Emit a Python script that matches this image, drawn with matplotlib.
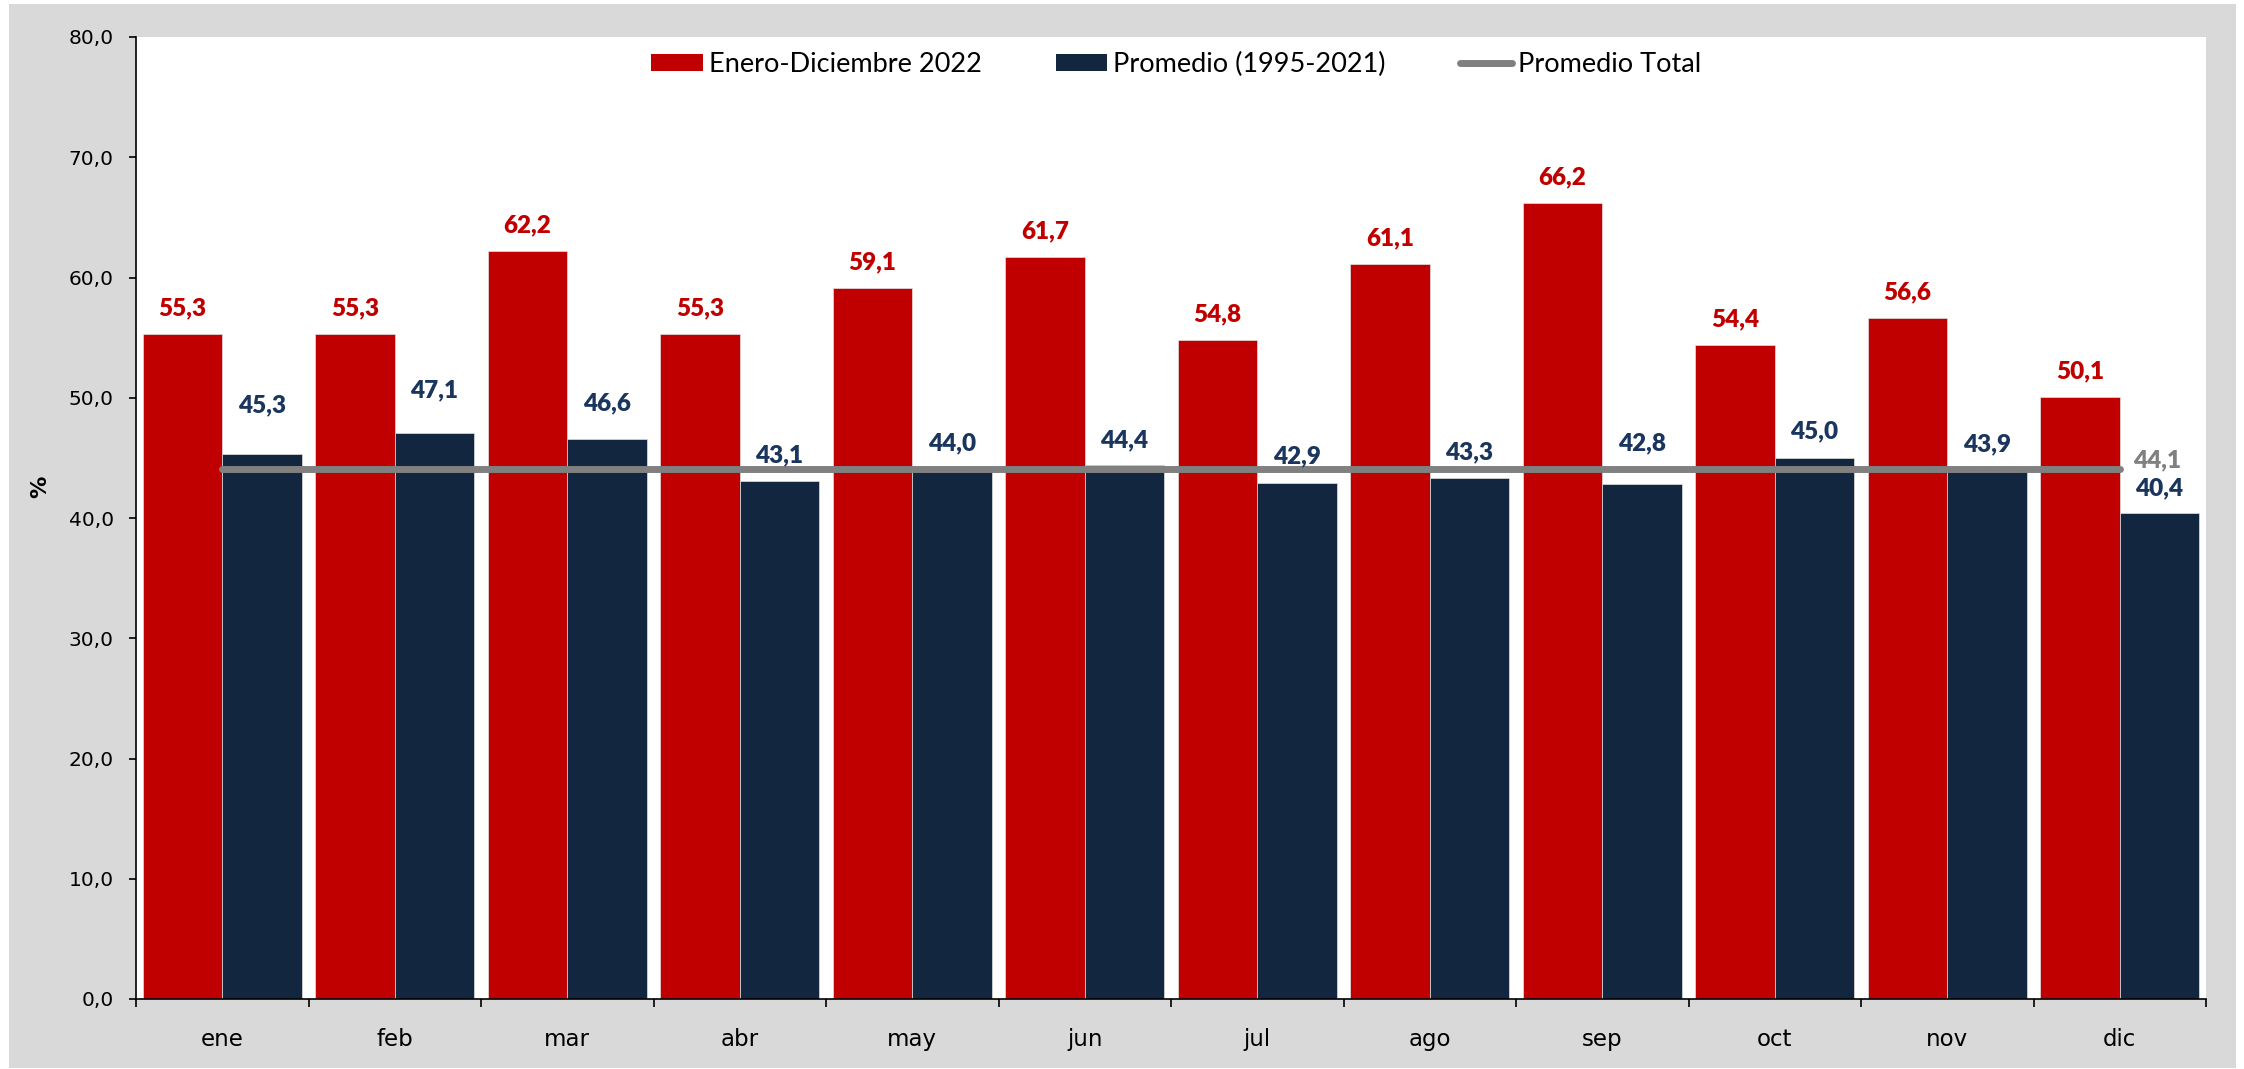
import numpy as np
import matplotlib
matplotlib.use('Agg')
import matplotlib.pyplot as plt
from matplotlib.patches import Rectangle, Patch
from matplotlib.lines import Line2D
from matplotlib.ticker import FuncFormatter, FixedLocator

meses = ['ene', 'feb', 'mar', 'abr', 'may', 'jun', 'jul', 'ago', 'sep', 'oct', 'nov', 'dic']
valores_2022 = [55.3, 55.3, 62.2, 55.3, 59.1, 61.7, 54.8, 61.1, 66.2, 54.4, 56.6, 50.1]
valores_promedio = [45.3, 47.1, 46.6, 43.1, 44.0, 44.4, 42.9, 43.3, 42.8, 45.0, 43.9, 40.4]
promedio_total = 44.1

# desplazamiento vertical (en unidades del eje) de las etiquetas azules
despl_azul = [4.1, 3.5, 2.9, 2.1, 2.2, 2.1, 2.2, 2.2, 3.4, 2.2, 2.2, 2.1]

rojo = '#c00000'
azul = '#12263f'
azul_txt = '#1a365f'
gris = '#808080'


def coma(v, pos=None):
    return f"{v:.1f}".replace('.', ',')


W, H = 2244, 1069
fig = plt.figure(figsize=(W / 100, H / 100), dpi=100)
fig.patch.set_facecolor('white')
fondo = Rectangle((9 / W, 1 / H), (2236 - 9) / W, (1065 - 1) / H,
                  transform=fig.transFigure, facecolor='#d9d9d9',
                  edgecolor='none', zorder=-10)
fig.patches.append(fondo)

ax = fig.add_axes([136 / W, (H - 999) / H, (2206 - 136) / W, (999 - 37) / H])
ax.set_facecolor('white')

x = np.arange(len(meses))
ancho = 0.46
ax.bar(x - ancho / 2, valores_2022, ancho, color=rojo, edgecolor='#e0e0e0', linewidth=0.5, zorder=2)
ax.bar(x + ancho / 2, valores_promedio, ancho, color=azul, edgecolor='#e0e0e0', linewidth=0.5, zorder=2)
ax.plot([x[0], x[-1]], [promedio_total, promedio_total], color=gris, linewidth=5,
        solid_capstyle='round', zorder=3)

fuente_lbl = 'Lato'
peso = 'heavy'
for i, v in enumerate(valores_2022):
    ax.annotate(coma(v), (x[i] - ancho / 2, v), xytext=(0, 18.5), textcoords='offset points',
                ha='center', va='center', color=rojo, fontsize=17.5, fontweight=peso,
                family=fuente_lbl, zorder=4)
for i, v in enumerate(valores_promedio):
    ax.text(x[i] + ancho / 2, v + despl_azul[i], coma(v), ha='center', va='center',
            color=azul_txt, fontsize=17.5, fontweight=peso, family=fuente_lbl, zorder=4)
ax.annotate(coma(promedio_total), (x[-1], promedio_total), xytext=(27, 6),
            textcoords='offset points', ha='center', va='center', color=gris,
            fontsize=17.5, fontweight=peso, family=fuente_lbl, zorder=4)

ax.set_xlim(-0.5, len(meses) - 0.5)
ax.set_ylim(0, 80)
ax.set_yticks(np.arange(0, 81, 10))
ax.yaxis.set_major_formatter(FuncFormatter(coma))
ax.tick_params(axis='y', direction='out', length=5, width=1.2, labelsize=14.5, pad=11,
               colors='black')

ax.xaxis.set_major_locator(FixedLocator(np.arange(-0.5, len(meses), 1)))
ax.xaxis.set_minor_locator(FixedLocator(x))
ax.set_xticklabels([], minor=False)
ax.set_xticklabels(meses, minor=True)
ax.tick_params(axis='x', which='major', direction='out', length=6, width=1.2, labelbottom=False)
ax.tick_params(axis='x', which='minor', length=0, labelsize=16.5, pad=21)

for s in ['top', 'right']:
    ax.spines[s].set_visible(False)
for s in ['left', 'bottom']:
    ax.spines[s].set_linewidth(1.2)
    ax.spines[s].set_color('black')

ax.set_ylabel('%', fontsize=16, fontweight='bold', rotation=90, va='center')
ax.yaxis.set_label_coords(-0.0464, 0.532)

handles = [Patch(facecolor=rojo), Patch(facecolor=azul),
           Line2D([0], [0], color=gris, linewidth=5, solid_capstyle='round')]
etiquetas = ['Enero-Diciembre 2022', 'Promedio (1995-2021)', 'Promedio Total']
ax.legend(handles, etiquetas, loc='center', bbox_to_anchor=(0.5025, 0.971), ncol=3,
          frameon=False, prop={'family': 'Lato', 'size': 19.5}, handlelength=1.9,
          handleheight=0.6, handletextpad=0.22, columnspacing=2.75)

fig.savefig('out.png', dpi=100, facecolor=fig.get_facecolor())
